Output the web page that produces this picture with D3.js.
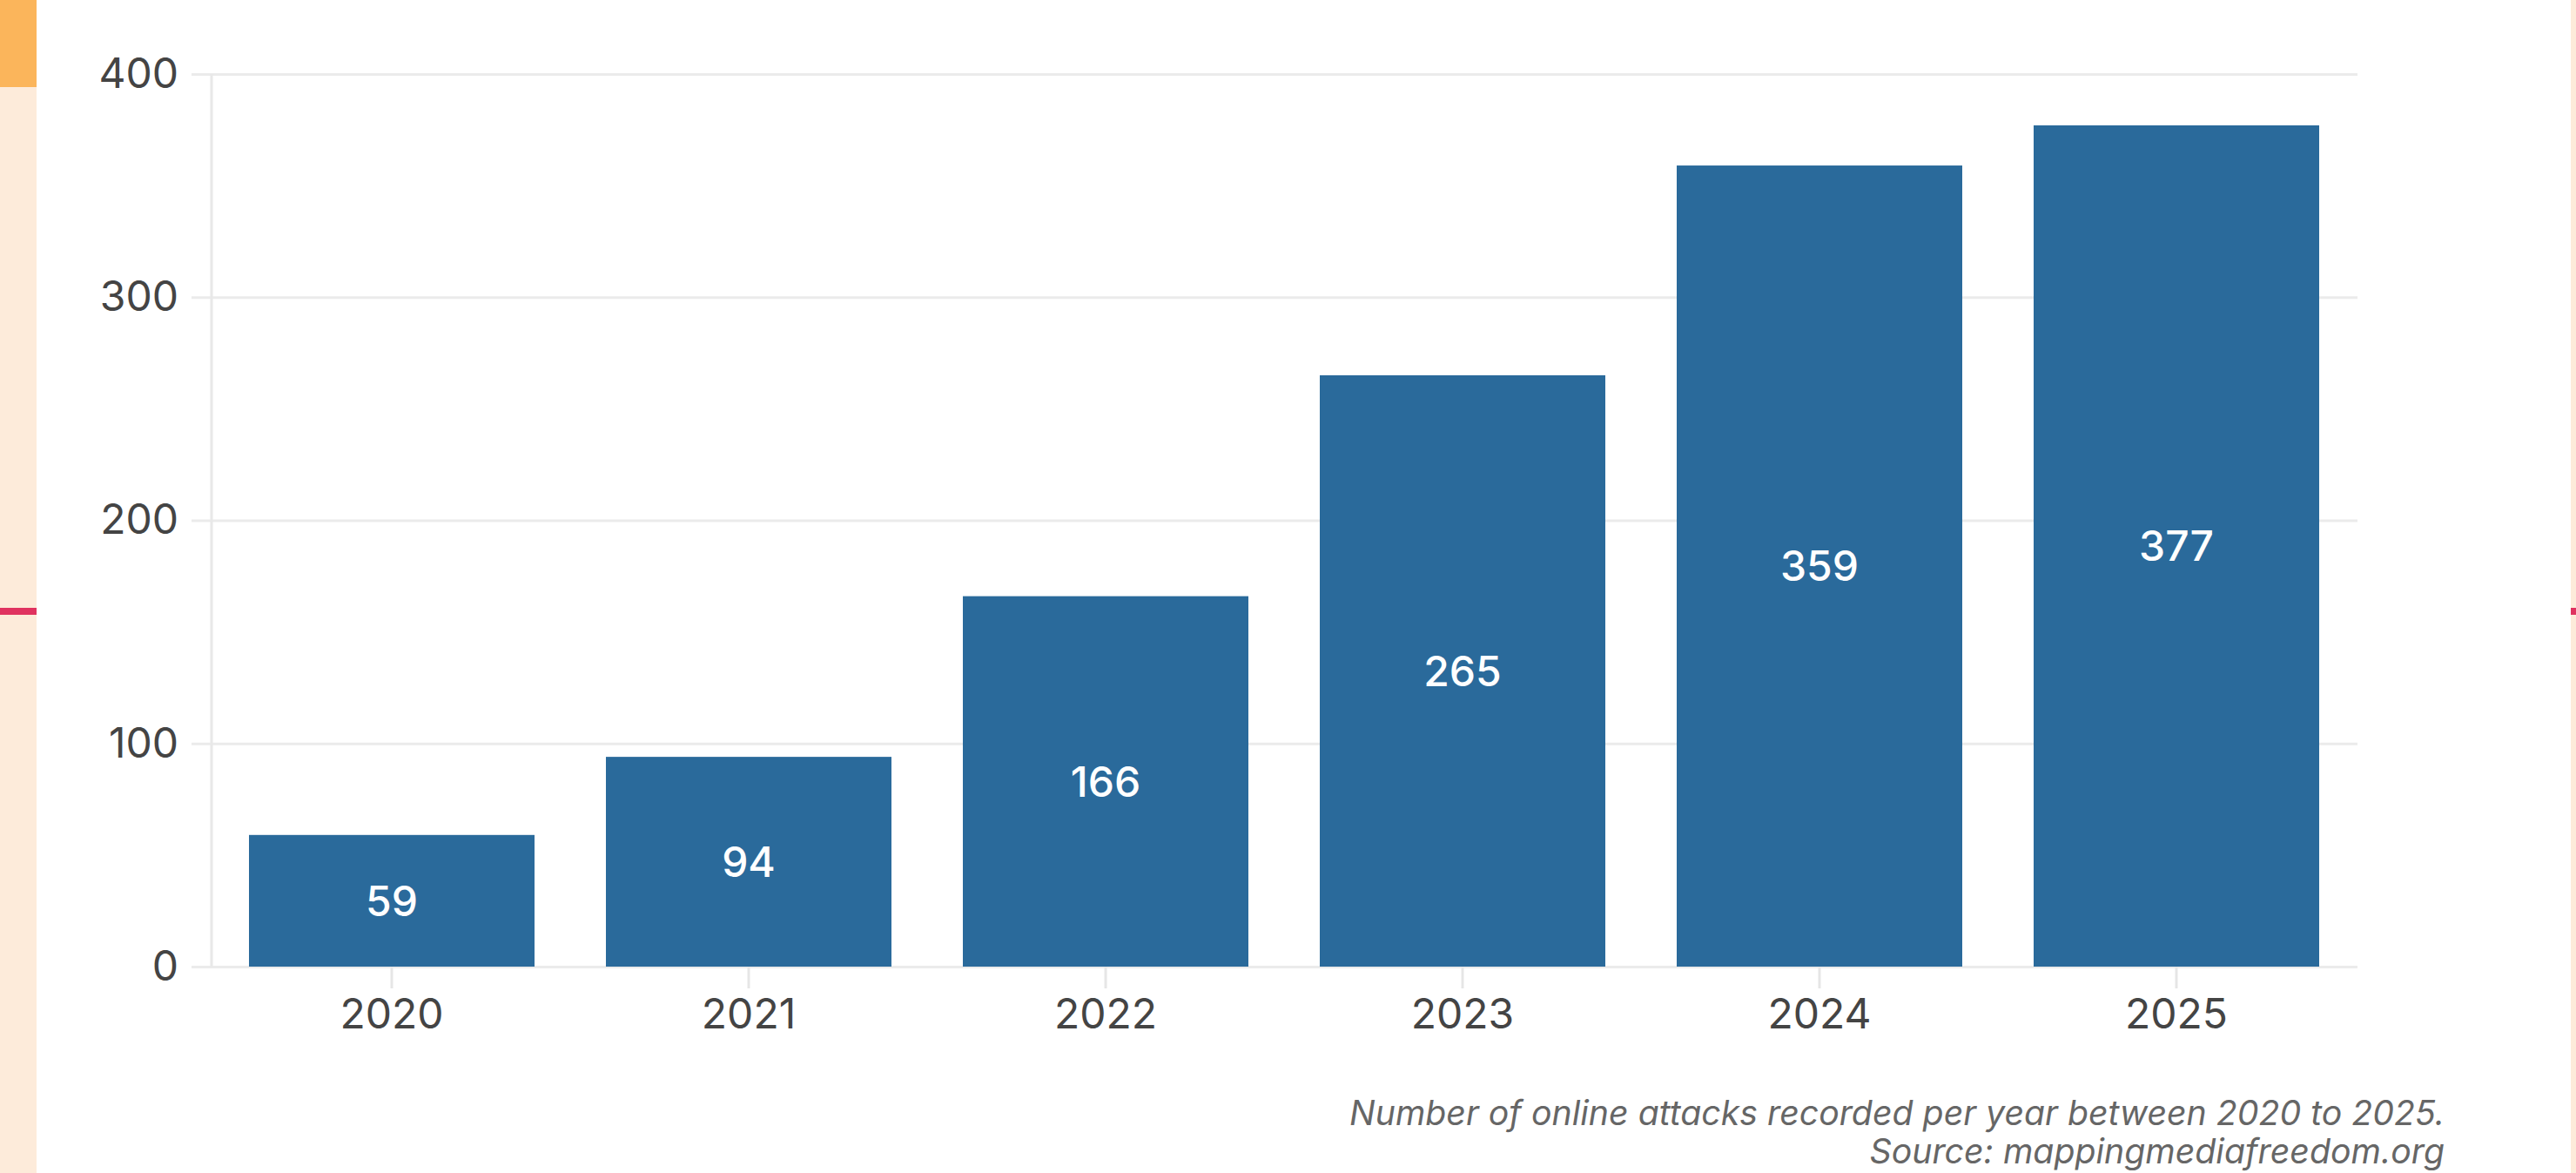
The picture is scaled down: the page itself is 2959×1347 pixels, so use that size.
<!DOCTYPE html>
<html>
<head>
<meta charset="utf-8">
<script src="https://cdn.jsdelivr.net/npm/d3@7"></script>
<style>
  html, body { margin: 0; padding: 0; background: #ffffff; }
  svg { display: block; }
</style>
</head>
<body>
<svg id="chart" width="2959" height="1347"></svg>
<script>
const years = ["2020", "2021", "2022", "2023", "2024", "2025"];
const attacks = [59, 94, 166, 265, 359, 377];
const yTicks = [0, 100, 200, 300, 400];
const captionLines = [
  "Number of online attacks recorded per year between 2020 to 2025.",
  "Source: mappingmediafreedom.org"
];

const W = 2959, H = 1347;
const svg = d3.select("#chart");

// decorative page edges
svg.append("rect").attr("x", 0).attr("y", 0).attr("width", 42).attr("height", H).attr("fill", "#fdebda");
svg.append("rect").attr("x", 0).attr("y", 0).attr("width", 42).attr("height", 100).attr("fill", "#fbb55b");
svg.append("rect").attr("x", 0).attr("y", 698).attr("width", 42).attr("height", 8).attr("fill", "#e0325f");
svg.append("rect").attr("x", 2953).attr("y", 0).attr("width", 6).attr("height", H).attr("fill", "#fdebda");
svg.append("rect").attr("x", 2953).attr("y", 698).attr("width", 6).attr("height", 8).attr("fill", "#e0325f");

const x = d3.scaleBand().domain(years).range([245, 2705]).paddingInner(0.2).paddingOuter(0.1);
const y = d3.scaleLinear().domain([0, 400]).range([1110, 85]);

const font = "Inter, 'Noto Sans', sans-serif";

// y axis with gridlines
const yAxis = svg.append("g")
  .attr("transform", "translate(220,0)")
  .call(d3.axisLeft(y).tickValues(yTicks).tickSize(-(2708 - 220)).tickPadding(15).tickFormat(d3.format("d")));
yAxis.select(".domain").remove();
yAxis.selectAll(".tick line").attr("stroke", "#ebebeb").attr("stroke-width", 3);
yAxis.selectAll(".tick text").attr("fill", "#444").style("font-family", font).style("font-size", "48px");

// vertical axis line
svg.append("line").attr("x1", 243).attr("x2", 243).attr("y1", y(400)).attr("y2", y(0))
  .attr("stroke", "#e8e8e8").attr("stroke-width", 3);

// x axis
const xAxis = svg.append("g")
  .attr("transform", `translate(0,${y(0)})`)
  .call(d3.axisBottom(x).tickSize(25).tickPadding(12));
xAxis.select(".domain").remove();
xAxis.selectAll(".tick line").attr("stroke", "#e6e6e6").attr("stroke-width", 3);
xAxis.selectAll(".tick text").attr("fill", "#444").style("font-family", font).style("font-size", "48px");

// bars
svg.append("g").selectAll("rect")
  .data(attacks)
  .join("rect")
  .attr("x", (d, i) => x(years[i]))
  .attr("width", x.bandwidth())
  .attr("y", d => y(d))
  .attr("height", d => y(0) - y(d))
  .attr("fill", "#2a6a9b");

// value labels
svg.append("g").selectAll("text")
  .data(attacks)
  .join("text")
  .attr("x", (d, i) => x(years[i]) + x.bandwidth() / 2)
  .attr("y", d => (y(d) + y(0)) / 2)
  .attr("dy", "0.36em")
  .attr("text-anchor", "middle")
  .attr("fill", "#ffffff")
  .style("font-family", font)
  .style("font-size", "48px")
  .style("font-weight", 500)
  .text(d => d);

// caption
const cap = svg.append("g").selectAll("text")
  .data(captionLines)
  .join("text")
  .attr("x", 2808)
  .attr("y", (d, i) => 1292 + i * 44)
  .attr("text-anchor", "end")
  .attr("fill", "#666")
  .style("font-family", font)
  .style("font-style", "italic")
  .style("font-size", "40px")
  .text(d => d);
// fit first caption line to the reference width
const w0 = cap.node().getComputedTextLength();
const fs = Math.max(30, Math.min(46, 40 * 1258 / w0));
cap.style("font-size", fs + "px");
</script>
</body>
</html>
